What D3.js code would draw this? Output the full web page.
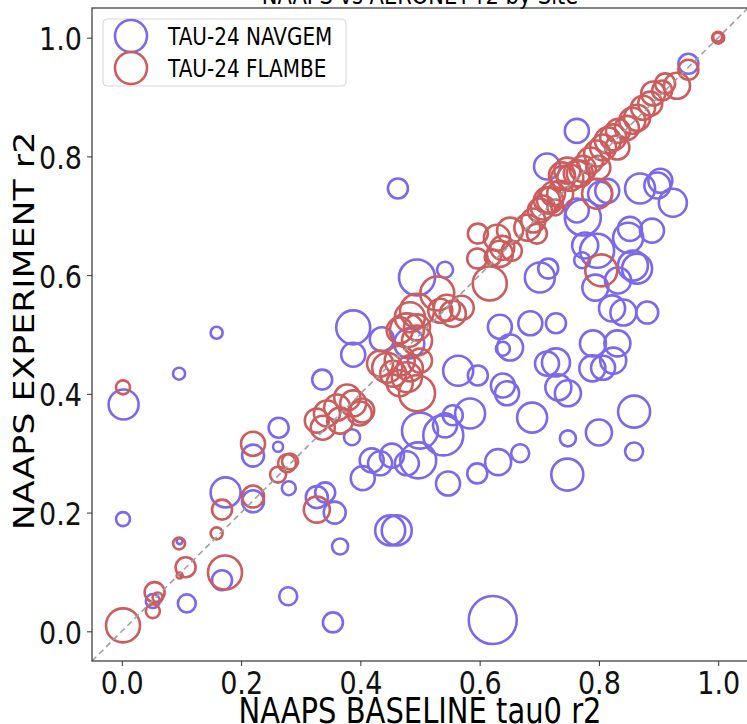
<!DOCTYPE html>
<html>
<head>
<meta charset="utf-8">
<script src="https://cdn.jsdelivr.net/npm/d3@7"></script>
<style>
  body { margin: 0; background: #fff; }
  svg { font-family: "DejaVu Sans", sans-serif; }
  .axis path, .axis line { stroke: #333; }
  .axis text { font-size: 27px; fill: #111; font-family: "DejaVu Sans", sans-serif; }
</style>
</head>
<body>
<div id="chart"></div>
<script>
// [baseline r2, experiment r2, number of obs]
var navgemSites = [
  [0.003,0.382,900],[0.002,0.189,196],[0.096,0.434,144],[0.159,0.503,144],
  [0.174,0.234,900],[0.168,0.086,400],[0.109,0.047,324],[0.052,0.051,196],
  [0.097,0.152,36],[0.220,0.296,484],[0.220,0.219,484],[0.263,0.343,400],
  [0.262,0.311,100],[0.280,0.241,196],[0.279,0.059,324],[0.327,0.226,484],
  [0.341,0.234,400],[0.357,0.200,484],[0.366,0.143,256],[0.354,0.015,400],
  [0.336,0.424,400],[0.388,0.512,1156],[0.388,0.466,576],[0.436,0.492,576],
  [0.482,0.485,900],[0.386,0.327,256],[0.463,0.746,400],[0.495,0.596,1296],
  [0.542,0.609,256],[0.450,0.170,900],[0.461,0.170,900],[0.404,0.258,576],
  [0.419,0.288,576],[0.433,0.283,576],[0.453,0.296,576],[0.478,0.283,576],
  [0.497,0.288,1296],[0.500,0.338,1296],[0.539,0.330,1600],[0.542,0.347,576],
  [0.555,0.364,400],[0.584,0.367,900],[0.547,0.249,576],[0.596,0.266,400],
  [0.631,0.285,676],[0.668,0.300,324],[0.622,0.019,2304],[0.564,0.439,900],
  [0.597,0.431,400],[0.634,0.513,576],[0.639,0.476,196],[0.651,0.478,676],
  [0.685,0.519,576],[0.728,0.519,400],[0.713,0.451,576],[0.639,0.414,576],
  [0.646,0.401,576],[0.688,0.360,900],[0.728,0.453,784],[0.732,0.411,676],
  [0.748,0.401,676],[0.747,0.264,1024],[0.748,0.325,256],[0.800,0.335,676],
  [0.859,0.303,324],[0.859,0.370,1024],[0.822,0.544,676],[0.841,0.537,676],
  [0.881,0.537,484],[0.790,0.485,676],[0.831,0.485,676],[0.824,0.456,676],
  [0.807,0.444,576],[0.789,0.443,676],[0.701,0.596,900],[0.715,0.611,400],
  [0.777,0.650,676],[0.772,0.625,256],[0.797,0.641,1156],[0.794,0.579,676],
  [0.832,0.591,676],[0.852,0.678,576],[0.849,0.663,900],[0.889,0.675,576],
  [0.857,0.616,900],[0.864,0.611,900],[0.924,0.722,784],[0.898,0.751,676],
  [0.903,0.759,576],[0.869,0.746,900],[0.773,0.697,1296],[0.763,0.709,576],
  [0.814,0.742,576],[0.802,0.737,576],[0.763,0.843,576],[0.713,0.783,676],
  [0.950,0.956,400]
];

var flambeSites = [
  [0.002,0.411,196],[0.002,0.010,1156],[0.055,0.066,400],[0.060,0.057,100],
  [0.052,0.034,196],[0.096,0.148,144],[0.107,0.108,400],[0.097,0.094,36],
  [0.159,0.165,144],[0.173,0.099,1156],[0.168,0.205,400],[0.220,0.316,576],
  [0.220,0.227,484],[0.262,0.264,256],[0.277,0.283,324],[0.282,0.286,256],
  [0.327,0.205,676],[0.361,0.377,676],[0.378,0.394,676],[0.388,0.384,676],
  [0.403,0.372,576],[0.344,0.367,676],[0.337,0.343,576],[0.327,0.355,576],
  [0.366,0.355,676],[0.399,0.367,576],[0.445,0.444,900],[0.433,0.451,676],
  [0.466,0.456,900],[0.455,0.434,676],[0.478,0.428,900],[0.466,0.418,676],
  [0.495,0.401,1296],[0.483,0.443,676],[0.500,0.456,576],[0.483,0.529,900],
  [0.466,0.507,676],[0.495,0.512,676],[0.529,0.569,1156],[0.545,0.545,676],
  [0.555,0.535,676],[0.534,0.540,576],[0.570,0.545,576],[0.478,0.507,1156],
  [0.495,0.490,900],[0.495,0.540,1156],[0.617,0.586,1156],[0.597,0.670,400],
  [0.596,0.628,400],[0.622,0.630,256],[0.629,0.663,676],[0.638,0.646,576],
  [0.634,0.636,676],[0.651,0.675,676],[0.654,0.641,400],[0.690,0.692,576],
  [0.680,0.680,676],[0.696,0.670,400],[0.701,0.709,576],[0.706,0.714,576],
  [0.718,0.726,676],[0.723,0.737,576],[0.713,0.726,676],[0.727,0.714,256],
  [0.735,0.737,676],[0.740,0.764,576],[0.752,0.764,676],[0.763,0.771,676],
  [0.773,0.779,676],[0.747,0.776,676],[0.738,0.768,676],[0.768,0.771,676],
  [0.797,0.737,900],[0.785,0.793,676],[0.797,0.805,676],[0.799,0.781,576],
  [0.807,0.815,676],[0.815,0.827,676],[0.824,0.832,676],[0.831,0.815,576],
  [0.832,0.843,576],[0.847,0.848,576],[0.856,0.860,676],[0.864,0.865,676],
  [0.874,0.882,576],[0.886,0.889,576],[0.891,0.906,576],[0.906,0.911,400],
  [0.911,0.923,400],[0.931,0.919,676],[0.950,0.946,400],[1.000,1.000,144],
  [0.999,1.001,81],[0.804,0.608,1024]
];

var tickVals = [0, 0.2, 0.4, 0.6, 0.8, 1.0];
var seriesNames = ["TAU-24 NAVGEM", "TAU-24 FLAMBE"];
var seriesColors = ["#7b68ee", "#cd5c5c"];

// text in the picture is a bit taller than it is wide
var textStretch = 1.2;

function drawChart() {
  var width = 747,
      height = 724;
  var margin = {left: 92, right: 748, top: 8, bottom: 661};

  var svg = d3.select("#chart").append("svg")
      .attr("width", width)
      .attr("height", height);

  var x = d3.scaleLinear().domain([-0.05, 1.05]).range([margin.left, margin.right]);
  var y = d3.scaleLinear().domain([-0.05, 1.05]).range([margin.bottom, margin.top]);
  var r = d3.scaleSqrt().domain([0, 2500]).range([0, 25]);

  // text placed at (tx,ty) baseline, stretched vertically
  function label(tx, ty, str, size, rotate) {
    var t = "translate(" + tx + "," + ty + ")" +
      (rotate ? " rotate(-90) scale(" + textStretch + ",1)" : " scale(1," + textStretch + ")");
    return svg.append("text")
        .attr("transform", t)
        .attr("text-anchor", "middle")
        .style("font-size", size + "px")
        .text(str);
  }

  // title (sits mostly above the page)
  label((margin.left + margin.right) / 2, 4, "NAAPS vs AERONET r2 by Site", 21);

  var plot = svg.append("g");

  function drawSeries(data, color) {
    plot.append("g").selectAll("circle")
        .data(data)
      .enter().append("circle")
        .attr("cx", function(d) { return x(d[0]); })
        .attr("cy", function(d) { return y(d[1]); })
        .attr("r", function(d) { return r(d[2]); })
        .attr("fill", "none")
        .attr("stroke", color)
        .attr("stroke-width", 2.6);
  }
  drawSeries(navgemSites, seriesColors[0]);
  drawSeries(flambeSites, seriesColors[1]);

  // 1:1 line
  plot.append("line")
      .attr("x1", x(-0.05)).attr("y1", y(-0.05))
      .attr("x2", x(1.05)).attr("y2", y(1.05))
      .attr("stroke", "#a0a0a0")
      .attr("stroke-width", 1.6)
      .attr("stroke-dasharray", "6,4");

  // axes
  var xAxis = svg.append("g")
      .attr("class", "axis")
      .attr("transform", "translate(0," + margin.bottom + ")")
      .call(d3.axisBottom(x).tickValues(tickVals).tickFormat(d3.format(".1f"))
        .tickSize(5).tickSizeOuter(0));
  xAxis.selectAll(".tick text")
      .attr("y", 0).attr("dy", null)
      .attr("transform", "translate(0,33) scale(1," + textStretch + ")");

  var yAxis = svg.append("g")
      .attr("class", "axis")
      .attr("transform", "translate(" + margin.left + ",0)")
      .call(d3.axisLeft(y).tickValues(tickVals).tickFormat(d3.format(".1f"))
        .tickSize(5).tickSizeOuter(0));
  yAxis.selectAll(".tick text")
      .attr("x", 0).attr("dy", null)
      .attr("transform", "translate(-10,12) scale(1," + textStretch + ")");

  svg.selectAll(".axis .domain").remove();

  // frame
  svg.append("rect")
      .attr("x", margin.left).attr("y", margin.top)
      .attr("width", margin.right - margin.left).attr("height", margin.bottom - margin.top)
      .attr("fill", "none")
      .attr("stroke", "#333")
      .attr("stroke-width", 1.2);

  // axis labels
  label((margin.left + margin.right) / 2, 722.5, "NAAPS BASELINE tau0 r2", 29);
  label(34, 331, "NAAPS EXPERIMENT r2", 29, true);

  // legend
  var legend = svg.append("g").attr("transform", "translate(103,19)");
  legend.append("rect")
      .attr("width", 243).attr("height", 67)
      .attr("rx", 4)
      .attr("fill", "#fff").attr("fill-opacity", 0.8)
      .attr("stroke", "#d6d6d6");

  seriesNames.forEach(function(name, i) {
    var row = legend.append("g").attr("transform", "translate(0," + (17 + i * 32) + ")");
    row.append("circle")
        .attr("cx", 28).attr("cy", 0).attr("r", 16)
        .attr("fill", "none")
        .attr("stroke", seriesColors[i])
        .attr("stroke-width", 2.6);
    row.append("text")
        .attr("transform", "translate(65,8.5) scale(1," + textStretch + ")")
        .style("font-size", "20px")
        .text(name);
  });
}

drawChart();
</script>
</body>
</html>
